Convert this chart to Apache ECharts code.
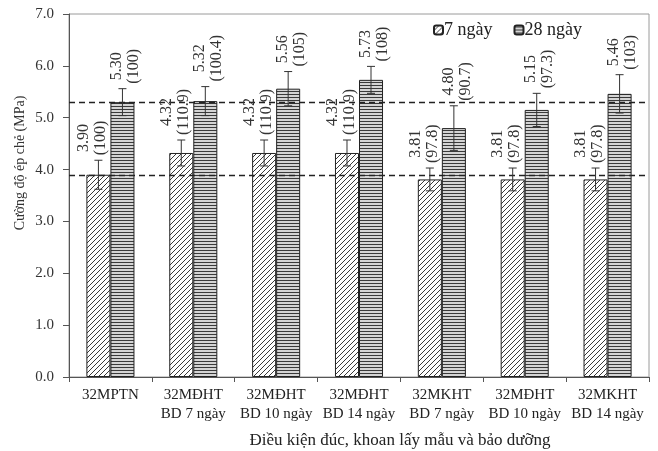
<!DOCTYPE html>
<html><head><meta charset="utf-8">
<script src="https://cdn.jsdelivr.net/npm/echarts@6/dist/echarts.min.js"></script>
<style>html,body{margin:0;padding:0;background:#fff}#c{width:658px;height:451px}</style>
</head><body><div id="c"></div>
<script>
const categories = ['32MPTN','32MĐHT\nBD 7 ngày','32MĐHT\nBD 10 ngày','32MĐHT\nBD 14 ngày','32MKHT\nBD 7 ngày','32MĐHT\nBD 10 ngày','32MKHT\nBD 14 ngày'];
const seriesNames = ['7 ngày','28 ngày'];
const v7 = [3.90,4.32,4.32,4.32,3.81,3.81,3.81];
const v28 = [5.30,5.32,5.56,5.73,4.80,5.15,5.46];
const err7 = [0.28,0.25,0.25,0.25,0.22,0.22,0.22];
const err28 = [0.26,0.28,0.33,0.26,0.43,0.32,0.37];
const pct7 = ['100','110.9','110.9','110.9','97.8','97.8','97.8'];
const pct28 = ['100','100.4','105','108','90.7','97.3','103'];
const refLines = [3.90,5.30];
const yTicks = [0,1,2,3,4,5,6,7];
const yAxisTitle = 'Cường độ ép chẻ (MPa)';
const xAxisTitle = 'Điều kiện đúc, khoan lấy mẫu và bảo dưỡng';

const FONT = '"Liberation Serif","Times New Roman",serif';
function diagPattern(){
  const c=document.createElement('canvas');c.width=5;c.height=5;
  const g=c.getContext('2d');g.fillStyle='#fff';g.fillRect(0,0,5,5);
  g.strokeStyle='#3a3a3a';g.lineWidth=1;
  g.beginPath();
  g.moveTo(-1,6);g.lineTo(6,-1);
  g.moveTo(-1,1);g.lineTo(1,-1);
  g.moveTo(4,6);g.lineTo(6,4);
  g.stroke();
  return {image:c,repeat:'repeat'};
}
function horizPattern(){
  const c=document.createElement('canvas');c.width=4;c.height=3;
  const g=c.getContext('2d');g.fillStyle='#d4d4d4';g.fillRect(0,0,4,3);
  g.fillStyle='#3a3a3a';g.fillRect(0,1,4,1);
  return {image:c,repeat:'repeat'};
}
const LFONT='16px '+FONT;
const mctx=document.createElement('canvas').getContext('2d');
mctx.font=LFONT;
function tw(s){return mctx.measureText(s).width;}

const HALF=0.145;
function errItem(side, extraX){
  return function(params, api){
    const ci=api.value(0), v=api.value(1), e=api.value(2);
    const band=api.size([1,0])[0];
    const c=api.coord([ci,v]);
    const x=c[0]+side*band*HALF;
    const top=api.coord([ci,v+e])[1], bot=api.coord([ci,v-e])[1];
    const idx=params.dataIndex;
    const vals=side<0?v7:v28, pcts=side<0?pct7:pct28;
    const l1=vals[idx].toFixed(2), l2='('+pcts[idx]+')';
    const w=Math.max(tw(l1),tw(l2));
    const cy=top-5-w/2;
    const st={stroke:'#333',lineWidth:1};
    return {type:'group',children:[
      {type:'line',shape:{x1:x,y1:top,x2:x,y2:bot},style:st},
      {type:'line',shape:{x1:x-4,y1:top,x2:x+4,y2:top},style:st},
      {type:'line',shape:{x1:x-4,y1:bot,x2:x+4,y2:bot},style:st},
      {type:'text',x:x+extraX,y:cy,rotation:Math.PI/2,
        style:{text:l1+'\n'+l2,x:0,y:0,align:'center',verticalAlign:'middle',
          font:LFONT,fill:'#333',lineHeight:17}}
    ]};
  };
}

const chart=echarts.init(document.getElementById('c'),null,{renderer:'canvas'});
chart.setOption({
  backgroundColor:'#fff',
  animation:false,
  grid:{left:69,right:9,top:14,bottom:74,show:true,borderColor:'#9a9a9a',borderWidth:1,backgroundColor:'transparent'},
  legend:{data:seriesNames,left:433,top:21,padding:0,itemWidth:9,itemHeight:9,itemGap:21,
    textStyle:{fontFamily:FONT,fontSize:18,color:'#222',padding:[0,0,0,-4]}},
  xAxis:{type:'category',data:categories,
    axisLine:{lineStyle:{color:'#555'}},
    axisTick:{show:true,length:5,lineStyle:{color:'#555'}},
    axisLabel:{fontFamily:FONT,fontSize:15,color:'#222',lineHeight:19,margin:9,interval:0}},
  yAxis:{type:'value',min:yTicks[0],max:yTicks[yTicks.length-1],interval:1,
    axisLine:{show:true,lineStyle:{color:'#555'}},
    axisTick:{show:true,length:6,lineStyle:{color:'#555'}},
    splitLine:{show:false},
    axisLabel:{fontFamily:FONT,fontSize:15,color:'#333',margin:15,formatter:v=>v.toFixed(1)}},
  graphic:[
    {type:'text',x:20,y:163,rotation:Math.PI/2,style:{text:yAxisTitle,x:0,y:0,align:'center',verticalAlign:'middle',font:'14px '+FONT,fill:'#333'}},
    {type:'text',x:400,y:441,style:{text:xAxisTitle,x:0,y:0,align:'center',verticalAlign:'middle',font:'17px '+FONT,fill:'#222'}}
  ],
  series:[
    {name:seriesNames[0],type:'bar',data:v7,barWidth:'29%',barGap:'0%',
      itemStyle:{color:diagPattern(),borderColor:'#222',borderWidth:1},
      markLine:{silent:true,symbol:'none',label:{show:false},
        lineStyle:{type:[6,4],color:'#222',width:1.3},
        data:refLines.map(v=>({yAxis:v}))}},
    {name:seriesNames[1],type:'bar',data:v28,barWidth:'29%',barGap:'0%',
      itemStyle:{color:horizPattern(),borderColor:'#222',borderWidth:1}},
    {type:'custom',name:'e7',renderItem:errItem(-1,-6),clip:false,z:5,
      data:v7.map((v,i)=>[i,v,err7[i]]),encode:{x:0,y:1}},
    {type:'custom',name:'e28',renderItem:errItem(1,3),clip:false,z:5,
      data:v28.map((v,i)=>[i,v,err28[i]]),encode:{x:0,y:1}}
  ]
});
</script></body></html>
